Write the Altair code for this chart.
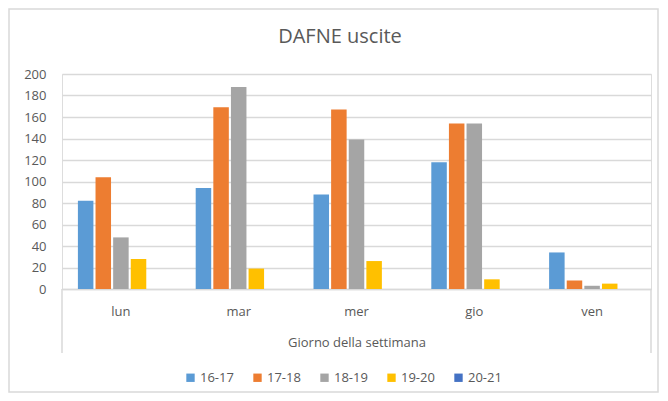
import altair as alt
import pandas as pd

days = ["lun", "mar", "mer", "gio", "ven"]
series = ["16-17", "17-18", "18-19", "19-20", "20-21"]
v_16_17 = [82, 94, 88, 118, 34]
v_17_18 = [104, 169, 167, 154, 8]
v_18_19 = [48, 188, 139, 154, 3]
v_19_20 = [28, 19, 26, 9, 5]
v_20_21 = [0, 0, 0, 0, 0]
colors = ["#5B9BD5", "#ED7D31", "#A5A5A5", "#FFC000", "#4472C4"]
title_text = "DAFNE uscite"
x_title = "Giorno della settimana"

vals = [v_16_17, v_17_18, v_18_19, v_19_20, v_20_21]
rows = []
for s, vs in zip(series, vals):
    for d, v in zip(days, vs):
        rows.append({"giorno": d, "fascia": s, "valore": v})
df = pd.DataFrame(rows)

W, H = 589, 215
txt = "#595959"
grid = "#D9D9D9"
font = "Open Sans"

bars = alt.Chart(df).mark_bar().encode(
    x=alt.X("giorno:N", sort=days,
            scale=alt.Scale(paddingInner=0.27, paddingOuter=0.135),
            axis=alt.Axis(title=x_title, labelAngle=0, ticks=False, domain=True,
                          domainColor=grid, domainWidth=1.5, labelPadding=16, titlePadding=18,
                          labelFontSize=13, titleFontSize=13, titleFontWeight="normal",
                          labelColor=txt, titleColor=txt, labelFont=font, titleFont=font)),
    xOffset=alt.XOffset("fascia:N", sort=series, scale=alt.Scale(paddingInner=0.12)),
    y=alt.Y("valore:Q", scale=alt.Scale(domain=[0, 200], nice=False),
            axis=alt.Axis(title=None, values=list(range(0, 201, 20)), ticks=False,
                          domain=False, gridColor=grid, gridWidth=1.5, labelPadding=16,
                          labelFontSize=13, labelColor=txt, labelFont=font)),
    color=alt.Color("fascia:N", sort=series,
                    scale=alt.Scale(domain=series, range=colors),
                    legend=alt.Legend(title=None, orient="none", direction="horizontal",
                                      legendX=122, legendY=297, symbolType="square",
                                      symbolSize=70, symbolStrokeWidth=0, labelFontSize=13,
                                      labelColor=txt, labelFont=font, columnPadding=17,
                                      symbolOffset=0, labelOffset=3)),
)

title = alt.Chart(pd.DataFrame({"t": [title_text]})).mark_text(
    fontSize=20, color=txt, font=font, align="center", baseline="middle"
).encode(text="t:N", x=alt.value(278), y=alt.value(-37))

box = alt.Chart(pd.DataFrame({"k": [0]})).mark_rule(color=grid, strokeWidth=1.5).encode(
    x=alt.value(0), y=alt.value(H), y2=alt.value(H + 64)
)
box2 = alt.Chart(pd.DataFrame({"k": [0]})).mark_rule(color=grid, strokeWidth=1.5).encode(
    x=alt.value(W), y=alt.value(H), y2=alt.value(H + 64)
)
frame = alt.Chart(pd.DataFrame({"k": [0]})).mark_rect(
    fill=None, stroke=grid, strokeWidth=1.5, fillOpacity=0
).encode(x=alt.value(-53), x2=alt.value(596), y=alt.value(-65), y2=alt.value(318))

chart = alt.layer(frame, bars, box, box2, title).properties(
    width=W, height=H,
    autosize=alt.AutoSizeParams(type="none"),
    padding={"left": 54, "top": 66, "right": 9, "bottom": 104},
).configure_view(stroke=None).configure(background="white")

chart.save("out.html", embed_options={"renderer": "svg", "actions": False})
